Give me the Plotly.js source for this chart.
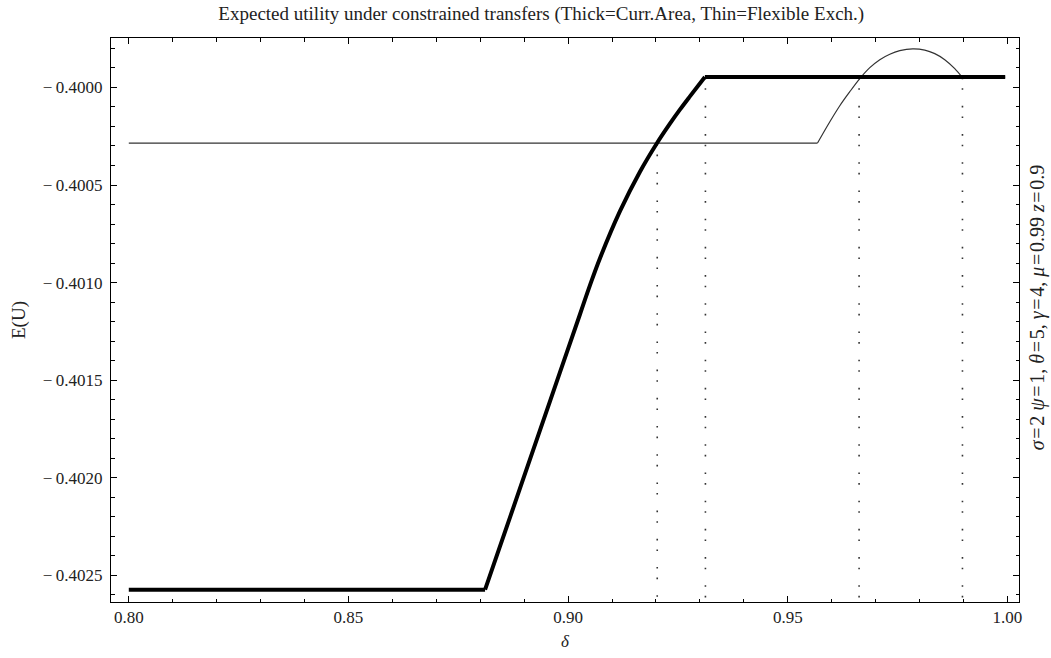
<!DOCTYPE html>
<html>
<head>
<meta charset="utf-8">
<script src="https://cdn.plot.ly/plotly-3.0.1.min.js"></script>
<style>html,body{margin:0;padding:0;background:#fff;}#chart{width:1051px;height:658px;}</style>
</head>
<body>
<div id="chart"></div>
<script>
// Thick curve: currency area
const thickX = [0.80, 0.88110, 0.88451, 0.88906, 0.89361, 0.89816, 0.90271, 0.90499, 0.90726, 0.91181, 0.91636, 0.92022, 0.92318, 0.92545, 0.92773, 0.93114, 0.9995];
const thickY = [-0.402573, -0.402573, -0.402350, -0.402053, -0.401756, -0.401459, -0.401162, -0.401013, -0.400875, -0.400634, -0.400432, -0.400286, -0.400186, -0.400114, -0.400046, -0.399947, -0.399947];
// Thin curve: flexible exchange
const thinX = [0.80, 0.95678, 0.95958, 0.96185, 0.96413, 0.96640, 0.96868, 0.97095, 0.97323, 0.97550, 0.97846, 0.98119, 0.98347, 0.98574, 0.98802, 0.98977, 0.9995];
const thinY = [-0.400285, -0.400285, -0.400176, -0.400094, -0.400022, -0.399955, -0.399899, -0.399858, -0.399830, -0.399812, -0.399803, -0.399809, -0.399827, -0.399858, -0.399904, -0.399950, -0.399947];
// Dotted vertical markers
const dotX = [0.92029, 0.93126, 0.96624, 0.98977];
const dotTop = [-0.400290, -0.399950, -0.399950, -0.399950];
const dotBottom = -0.402636;
// Tick labels
const xTickVals = [0.80, 0.85, 0.90, 0.95, 1.00];
const xTickText = ['0.80', '0.85', '0.90', '0.95', '1.00'];
const yTickVals = [-0.4025, -0.4020, -0.4015, -0.4010, -0.4005, -0.4000];
const yTickText = ['\u2212\u20090.4025', '\u2212\u20090.4020', '\u2212\u20090.4015', '\u2212\u20090.4010', '\u2212\u20090.4005', '\u2212\u20090.4000'];

const serif = 'Liberation Serif, Times New Roman, serif';
const traces = [];
dotX.forEach((x, i) => {
  traces.push({x: [x, x], y: [dotTop[i], dotBottom], mode: 'lines', type: 'scatter',
    line: {color: '#333', width: 1.6, dash: '1.6px,9px,1.6px,16px'}, hoverinfo: 'skip', showlegend: false});
});
function addPiecewise(xs, ys, curveStart, curveEnd, style) {
  // flat segment, smooth curved segment, flat segment
  traces.push({x: xs.slice(0, curveStart + 1), y: ys.slice(0, curveStart + 1), mode: 'lines', type: 'scatter', line: Object.assign({}, style), showlegend: false});
  traces.push({x: xs.slice(curveStart, curveEnd + 1), y: ys.slice(curveStart, curveEnd + 1), mode: 'lines', type: 'scatter', line: Object.assign({shape: 'spline', smoothing: 1}, style), showlegend: false});
  traces.push({x: xs.slice(curveEnd), y: ys.slice(curveEnd), mode: 'lines', type: 'scatter', line: Object.assign({}, style), showlegend: false});
}
addPiecewise(thinX, thinY, 1, 15, {color: '#333', width: 1.2});
addPiecewise(thickX, thickY, 1, 15, {color: '#000', width: 4});

const axisCommon = {
  showgrid: false, zeroline: false, showline: true, linecolor: '#000', linewidth: 1,
  mirror: 'ticks', ticks: 'inside', ticklen: 6, tickwidth: 1, tickcolor: '#000',
  tickmode: 'array',
  tickfont: {family: serif, size: 17, color: '#222'}
};
const layout = {
  width: 1051, height: 658,
  margin: {l: 111, r: 32, t: 38, b: 56},
  paper_bgcolor: '#fff', plot_bgcolor: '#fff',
  font: {family: serif, color: '#222'},
  title: {text: 'Expected utility under constrained transfers (Thick=Curr.Area, Thin=Flexible Exch.)',
    font: {family: serif, size: 19, color: '#222'}, x: 0.515, xref: 'container', xanchor: 'center', y: 0.979, yref: 'container', yanchor: 'middle'},
  xaxis: Object.assign({}, axisCommon, {
    range: [0.79595, 1.00264], tickvals: xTickVals, ticktext: xTickText,
    minor: {tickmode: 'linear', dtick: 0.01, tick0: 0.8, ticks: 'inside', ticklen: 3.5, tickcolor: '#000', tickwidth: 1},
    title: {text: '<i>δ</i>', font: {family: serif, size: 17, color: '#222'}, standoff: 8}
  }),
  yaxis: Object.assign({}, axisCommon, {
    range: [-0.402636, -0.399747], tickvals: yTickVals, ticktext: yTickText,
    ticklabelstandoff: 4,
    minor: {tickmode: 'linear', dtick: 0.0001, tick0: -0.4, ticks: 'inside', ticklen: 3.5, tickcolor: '#000', tickwidth: 1},
    title: {text: 'E(U)', font: {family: serif, size: 19, color: '#222'}, standoff: 12}
  }),
  annotations: [{
    text: '<i>σ</i>\u200A=\u200A2 <i>ψ</i>\u200A=\u200A1, <i>θ</i>\u200A=\u200A5, <i>γ</i>\u200A=\u200A4, <i>μ</i>\u200A=\u200A0.99 <i>z</i>\u200A=\u200A0.9',
    xref: 'paper', yref: 'paper', x: 1.0198, y: 0.5225, textangle: -90, showarrow: false,
    xanchor: 'center', yanchor: 'middle', font: {family: serif, size: 20, color: '#222'}
  }]
};
Plotly.newPlot('chart', traces, layout, {displayModeBar: false, staticPlot: true});
</script>
</body>
</html>
